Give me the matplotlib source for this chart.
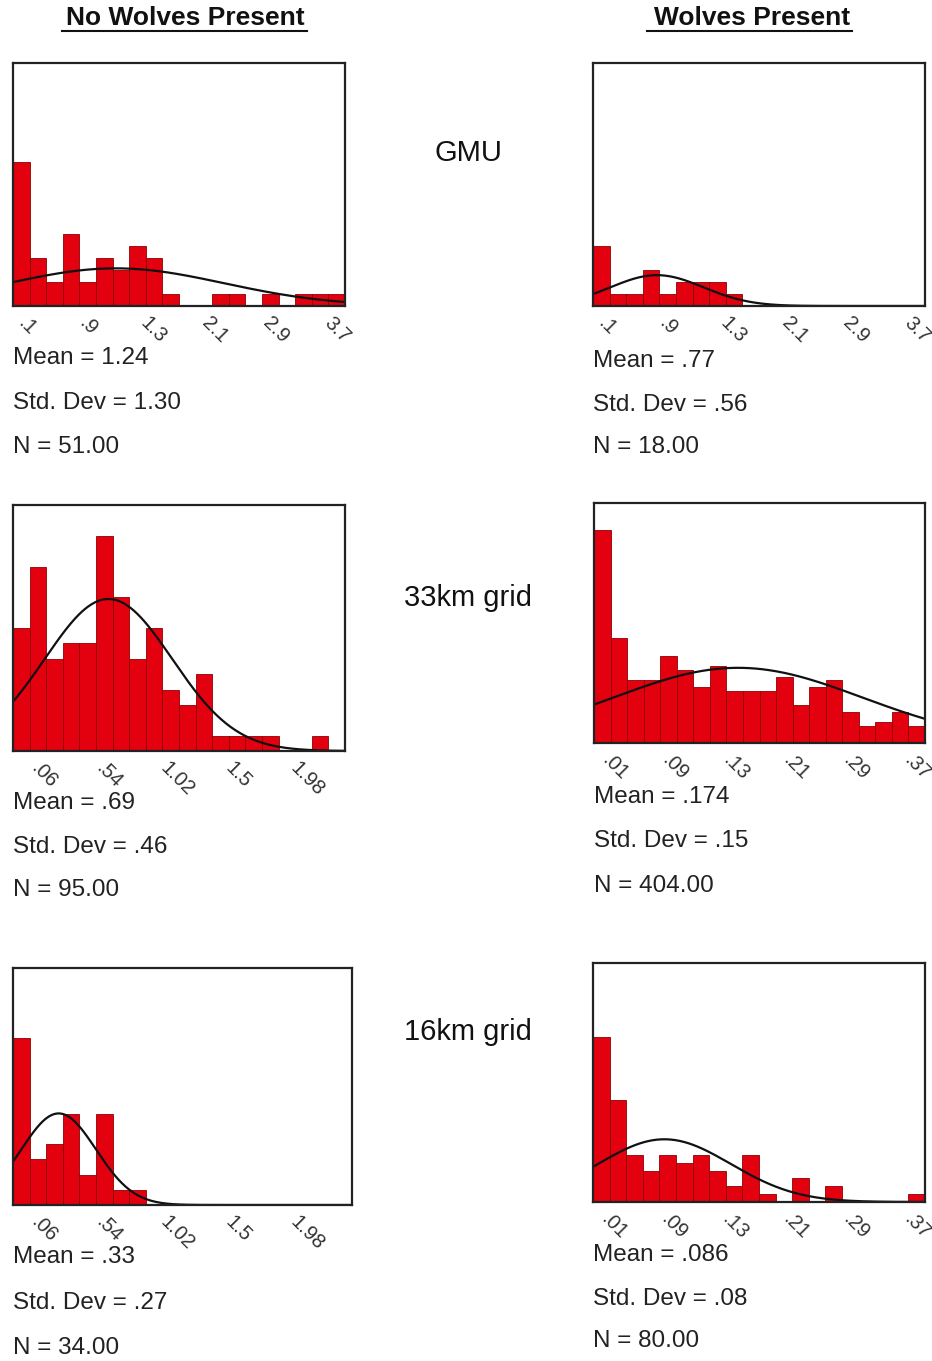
import numpy as np
import matplotlib
matplotlib.use("Agg")
import matplotlib.pyplot as plt
from matplotlib.lines import Line2D

plt.rcParams['font.family'] = ['Liberation Sans', 'DejaVu Sans']

# ---- data (bin counts, left to right) ----
gmu_none_counts = [12, 4, 2, 6, 2, 4, 3, 5, 4, 1, 0, 0, 1, 1, 0, 1, 0, 1, 1, 1]
gmu_wolf_counts = [5, 1, 1, 3, 1, 2, 2, 2, 1, 0, 0, 0, 0, 0, 0, 0, 0, 0, 0, 0]
g33_none_counts = [8, 12, 6, 7, 7, 14, 10, 6, 8, 4, 3, 5, 1, 1, 1, 1, 0, 0, 1, 0]
g33_wolf_counts = [61, 30, 18, 18, 25, 21, 16, 22, 15, 15, 15, 19, 11, 16, 18, 9, 5, 6, 9, 5]
g16_none_counts = [11, 3, 4, 6, 2, 6, 1, 1, 0, 0, 0, 0, 0, 0, 0, 0, 0, 0, 0, 0]
g16_wolf_counts = [21, 13, 6, 4, 6, 5, 6, 4, 2, 6, 1, 0, 3, 0, 2, 0, 0, 0, 0, 1]

means = [1.24, .77, .69, .174, .33, .086]
std_devs = [1.30, .56, .46, .15, .27, .08]
ns = [51, 18, 95, 404, 34, 80]

mean_labels = ['1.24', '.77', '.69', '.174', '.33', '.086']
sd_labels = ['1.30', '.56', '.46', '.15', '.27', '.08']
n_labels = ['51.00', '18.00', '95.00', '404.00', '34.00', '80.00']

gmu_ticks = ['.1', '.9', '1.3', '2.1', '2.9', '3.7']
none_grid_ticks = ['.06', '.54', '1.02', '1.5', '1.98']
wolf_grid_ticks = ['.01', '.09', '.13', '.21', '.29', '.37']

row_titles = ['GMU', '33km grid', '16km grid']
col_titles = ['No Wolves Present', 'Wolves Present']

# ---- layout (pixels of a 932x1361 canvas) ----
W, H = 932, 1361
fig = plt.figure(figsize=(W / 100, H / 100), dpi=100)


def px_axes(x0, y0, x1, y1):
    return fig.add_axes([x0 / W, 1 - y1 / H, (x1 - x0) / W, (y1 - y0) / H])


panels = [
    # counts, bin width, ylim top, xlim extra, tick range, tick labels, box
    (gmu_none_counts, 0.2, 20.2, 0, (0.02, 3.7), gmu_ticks, (13, 63, 345, 306)),
    (gmu_wolf_counts, 0.2, 20.2, 0, (0.02, 3.7), gmu_ticks, (593, 63, 925, 306)),
    (g33_none_counts, 0.12, 16.0, 0, (0.1, 1.98), none_grid_ticks, (13, 505, 345, 751)),
    (g33_wolf_counts, 0.02, 68.6, 0, (0.005, 0.37), wolf_grid_ticks, (594, 503, 925, 743)),
    (g16_none_counts, 0.12, 15.6, 0.05, (0.1, 1.98), none_grid_ticks, (13, 968, 352, 1205)),
    (g16_wolf_counts, 0.02, 30.4, 0, (0.005, 0.37), wolf_grid_ticks, (593, 963, 925, 1202)),
]

stat_y = [(358, 403, 447), (361, 405, 447), (803, 847, 890),
          (797, 841, 886), (1257, 1303, 1348), (1255, 1299, 1341)]

for i, (counts, bw, ytop, xextra, (t0, t1), tlabels, box) in enumerate(panels):
    ax = px_axes(*box)
    nb = len(counts)
    edges = np.arange(nb + 1) * bw
    ax.bar(edges[:-1], counts, width=bw, align='edge',
           color='#e3000f', edgecolor='#8c0000', linewidth=0.6)

    # fitted normal curve from the printed mean / sd / N
    xs = np.linspace(0, edges[-1] + xextra, 300)
    ys = ns[i] * bw / (std_devs[i] * np.sqrt(2 * np.pi)) * \
        np.exp(-0.5 * ((xs - means[i]) / std_devs[i]) ** 2)
    ax.plot(xs, ys, color='#111111', linewidth=1.6)

    ax.set_xlim(0, edges[-1] + xextra)
    ax.set_ylim(0, ytop)
    ax.set_yticks([])
    ax.set_xticks(np.linspace(t0, t1, len(tlabels)))
    ax.set_xticklabels(tlabels, rotation=-45, ha='left', va='top',
                       fontsize=14.5, color='#333333')
    ax.tick_params(axis='x', length=0, pad=5)
    for s in ax.spines.values():
        s.set_linewidth(1.6)
        s.set_color('#222222')

    x0 = box[0] / W
    for yy, txt in zip(stat_y[i], ['Mean = ' + mean_labels[i],
                                   'Std. Dev = ' + sd_labels[i],
                                   'N = ' + n_labels[i]]):
        fig.text(x0, 1 - yy / H, txt, fontsize=17.5, color='#222222',
                 ha='left', va='center')

# row titles in the middle column
for yy, t in zip([153, 598, 1032], row_titles):
    fig.text(468 / W, 1 - yy / H, t, fontsize=21, color='#111111',
             ha='center', va='center')

# column headers, bold narrow and underlined
for (xc, x0, x1), t in zip([(185, 62, 307), (752, 647, 852)], col_titles):
    fig.text(xc / W, 1 - 18 / H, t, fontsize=19, fontweight='bold',
             family=['Liberation Sans Narrow', 'Liberation Sans'],
             color='#111111', ha='center', va='center')
    fig.add_artist(Line2D([x0 / W, x1 / W], [1 - 31 / H, 1 - 31 / H],
                          transform=fig.transFigure, color='#111111', linewidth=1.5))

fig.savefig('out.png', dpi=100, facecolor='white')
